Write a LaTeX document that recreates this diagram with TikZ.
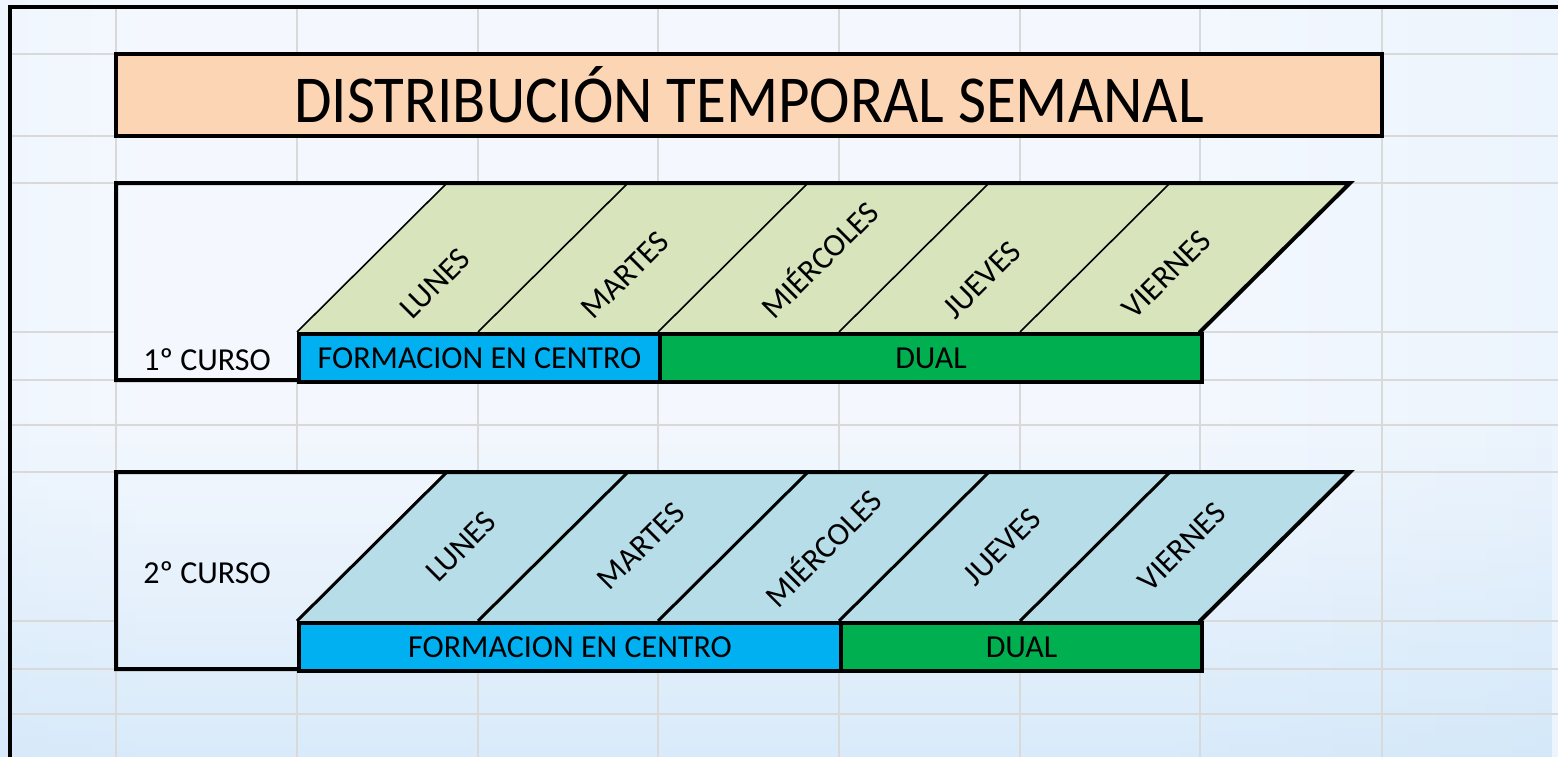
\documentclass[tikz,border=0pt]{standalone}
\usepackage{fontspec}
\setmainfont{Carlito}
\usetikzlibrary{fadings}
\definecolor{bgL}{HTML}{D0E7FA}
\definecolor{bgLa}{HTML}{E4F0FC}
\definecolor{bgM}{HTML}{F4F8FE}
\definecolor{bgRa}{HTML}{E6F1FC}
\definecolor{bgR}{HTML}{D2E8F9}
\definecolor{bgB}{HTML}{B8DAF5}
\definecolor{gridc}{HTML}{D9D9D9}
\definecolor{peach}{HTML}{FCD5B4}
\definecolor{daygreen}{HTML}{D8E4BC}
\definecolor{dayblue}{HTML}{B7DEE8}
\definecolor{centro}{HTML}{00B0F0}
\definecolor{dual}{HTML}{00B050}
\pgfdeclarehorizontalshading{bgh}{100bp}{color(0bp)=(bgL); color(8bp)=(bgLa); color(30bp)=(bgM); color(62bp)=(bgM); color(85bp)=(bgRa); color(100bp)=(bgR)}
\tikzfading[name=downfade, top color=transparent!100, bottom color=transparent!55]
\tikzfading[name=bandfade, top color=transparent!100, middle color=transparent!65, bottom color=transparent!100]
\newcommand\mybgpaint{%
  \shade[shading=bgh] (0,0) rectangle (1558,757);
  \fill[bgB, path fading=downfade] (0,420) rectangle (1558,757);
  \fill[bgB, path fading=bandfade] (0,570) rectangle (1558,640);
  \fill[bgB, path fading=bandfade] (0,660) rectangle (1558,725);
}
\begin{document}
\begin{tikzpicture}[x=1pt,y=-1pt,
  thickborder/.style={line width=4pt, line join=miter},
  gridline/.style={gridc, line width=2.6pt},
  lbl/.style={inner sep=0pt, font=\fontsize{32}{32}\selectfont},
  bar/.style={draw, line width=4pt, anchor=north west, minimum height=48pt, inner sep=0pt, font=\fontsize{32}{32}\selectfont},
  day/.style={inner sep=0pt, rotate=45, font=\fontsize{32}{32}\selectfont},
]
\useasboundingbox (0,0) rectangle (1558,757);
% background
\mybgpaint
\foreach \x in {116,297,478,658,839,1020,1200,1382} \draw[gridline] (\x,7) -- (\x,757);
\foreach \y in {54,136,183,332,380,425,472,621,669,714} \draw[gridline] (10,\y) -- (1558,\y);
\draw[line width=3.5pt] (10,757) -- (10,7) -- (1558,7);
% title
\node[draw, line width=4pt, fill=peach, minimum width=1266pt, minimum height=82pt, inner sep=0pt,
      font=\fontsize{61}{61}\selectfont] (title) at (749,95) {\scalebox{1}[1.1]{DISTRIBUCIÓN TEMPORAL SEMANAL}};
% ---------- row 1 ----------
\begin{scope}
  \clip (116,183) -- (1350,183) -- (1200,332) -- (1200,380) -- (116,380) -- cycle;
  \mybgpaint
\end{scope}
\fill[daygreen] (297,332) -- (447,183) -- (1350,183) -- (1200,332) -- cycle;
\foreach \x in {297,478,658,839,1020} \draw[line width=1.6pt] (\x,332) -- ++(150,-149);
\draw[thickborder] (116,183) -- (1350,183) -- (1200,332) -- (1200,380) -- (116,380) -- cycle;
\node[bar, fill=centro, minimum width=361pt] (c1) at (297,332) {FORMACION EN CENTRO};
\node[bar, fill=dual, minimum width=542pt] (u1) at (658,332) {DUAL};
\node[lbl] (k1) at (207,360) {1º CURSO};
\node[day, anchor=south west] (d1a) at (413,321) {LUNES};
\node[day, anchor=south west] (d1b) at (594,321) {MARTES};
\node[day, anchor=south west] (d1c) at (775,321) {MIÉRCOLES};
\node[day, anchor=south west] (d1d) at (956,321) {JUEVES};
\node[day, anchor=south west] (d1e) at (1135,321) {VIERNES};
% ---------- row 2 ----------
\begin{scope}
  \clip (116,472) -- (1350,472) -- (1200,621) -- (1200,669) -- (116,669) -- cycle;
  \mybgpaint
\end{scope}
\fill[dayblue] (297,621) -- (447,472) -- (1350,472) -- (1200,621) -- cycle;
\foreach \x in {297,478,658,839,1020} \draw[line width=3pt] (\x,621) -- ++(150,-149);
\draw[thickborder] (116,472) -- (1350,472) -- (1200,621) -- (1200,669) -- (116,669) -- cycle;
\node[bar, fill=centro, minimum width=542pt] (c2) at (297,621) {FORMACION EN CENTRO};
\node[bar, fill=dual, minimum width=361pt] (u2) at (839,621) {DUAL};
\node[lbl] (k2) at (207,573) {2º CURSO};
\node[day] (d2a) at (461,547) {LUNES};
\node[day] (d2b) at (641,546) {MARTES};
\node[day] (d2c) at (822,547) {MIÉRCOLES};
\node[day] (d2d) at (1002,547) {JUEVES};
\node[day] (d2e) at (1182,547) {VIERNES};
\end{tikzpicture}
\end{document}
